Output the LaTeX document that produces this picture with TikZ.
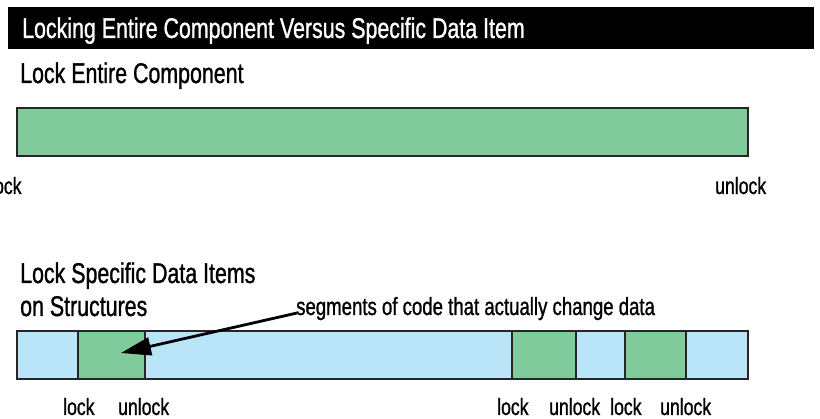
\documentclass[tikz,border=0pt]{standalone}
\usepackage{fontspec}
\setmainfont[FakeStretch=0.75,FakeBold=1]{Liberation Sans}
\usetikzlibrary{arrows.meta}

\definecolor{codegreen}{RGB}{128,203,156}
\definecolor{idleblue}{RGB}{186,228,248}

\tikzset{
  heading/.style={anchor=base west, inner sep=0pt, font=\fontsize{28.5}{33}\selectfont},
  tag/.style={anchor=base west, inner sep=0pt, font=\fontsize{23.5}{28}\selectfont},
  seg/.style={draw=black!85, line width=1.3pt},
  pointer/.style={line width=2.8pt, -{Triangle[length=30pt,width=18pt]}}
}

\begin{document}
\begin{tikzpicture}[x=1pt,y=-1pt]
  \useasboundingbox (0,0) rectangle (820,419);

  % title strip
  \fill[black] (8,7) rectangle (814,49);
  \node[heading, text=white] (title) at (22,38) {Locking Entire Component Versus Specific Data Item};

  % whole component locked
  \node[heading] (whole) at (20,83) {Lock Entire Component};
  \filldraw[seg, fill=codegreen] (17,108) rectangle (748,156);
  \begin{scope}
    \clip (0,160) rectangle (820,210);
    \node[tag] (lockA) at (-10,194) {lock};
  \end{scope}
  \node[tag] (unlockA) at (715,194) {unlock};

  % only the data-changing segments locked
  \node[heading] (items) at (20,283) {Lock Specific Data Items};
  \node[heading] (items2) at (20,316) {on Structures};

  \filldraw[seg, fill=idleblue]  (17,331)  rectangle (78,379);
  \filldraw[seg, fill=codegreen] (78,331)  rectangle (145,379);
  \filldraw[seg, fill=idleblue]  (145,331) rectangle (512,379);
  \filldraw[seg, fill=codegreen] (512,331) rectangle (576,379);
  \filldraw[seg, fill=idleblue]  (576,331) rectangle (625,379);
  \filldraw[seg, fill=codegreen] (625,331) rectangle (686,379);
  \filldraw[seg, fill=idleblue]  (686,331) rectangle (748,379);

  \node[tag] (l1) at (63,415)  {lock};
  \node[tag] (u1) at (118,415) {unlock};
  \node[tag] (l2) at (497,415) {lock};
  \node[tag] (u2) at (549,415) {unlock};
  \node[tag] (l3) at (610,415) {lock};
  \node[tag] (u3) at (660,415) {unlock};

  % callout
  \node[tag, font=\fontsize{24.8}{29}\selectfont] (note) at (296,315) {segments of code that actually change data};
  \coordinate (notestart) at (297,313);
  \coordinate (tip) at (121,353);
  \draw[pointer] (notestart) -- (tip);
\end{tikzpicture}
\end{document}
